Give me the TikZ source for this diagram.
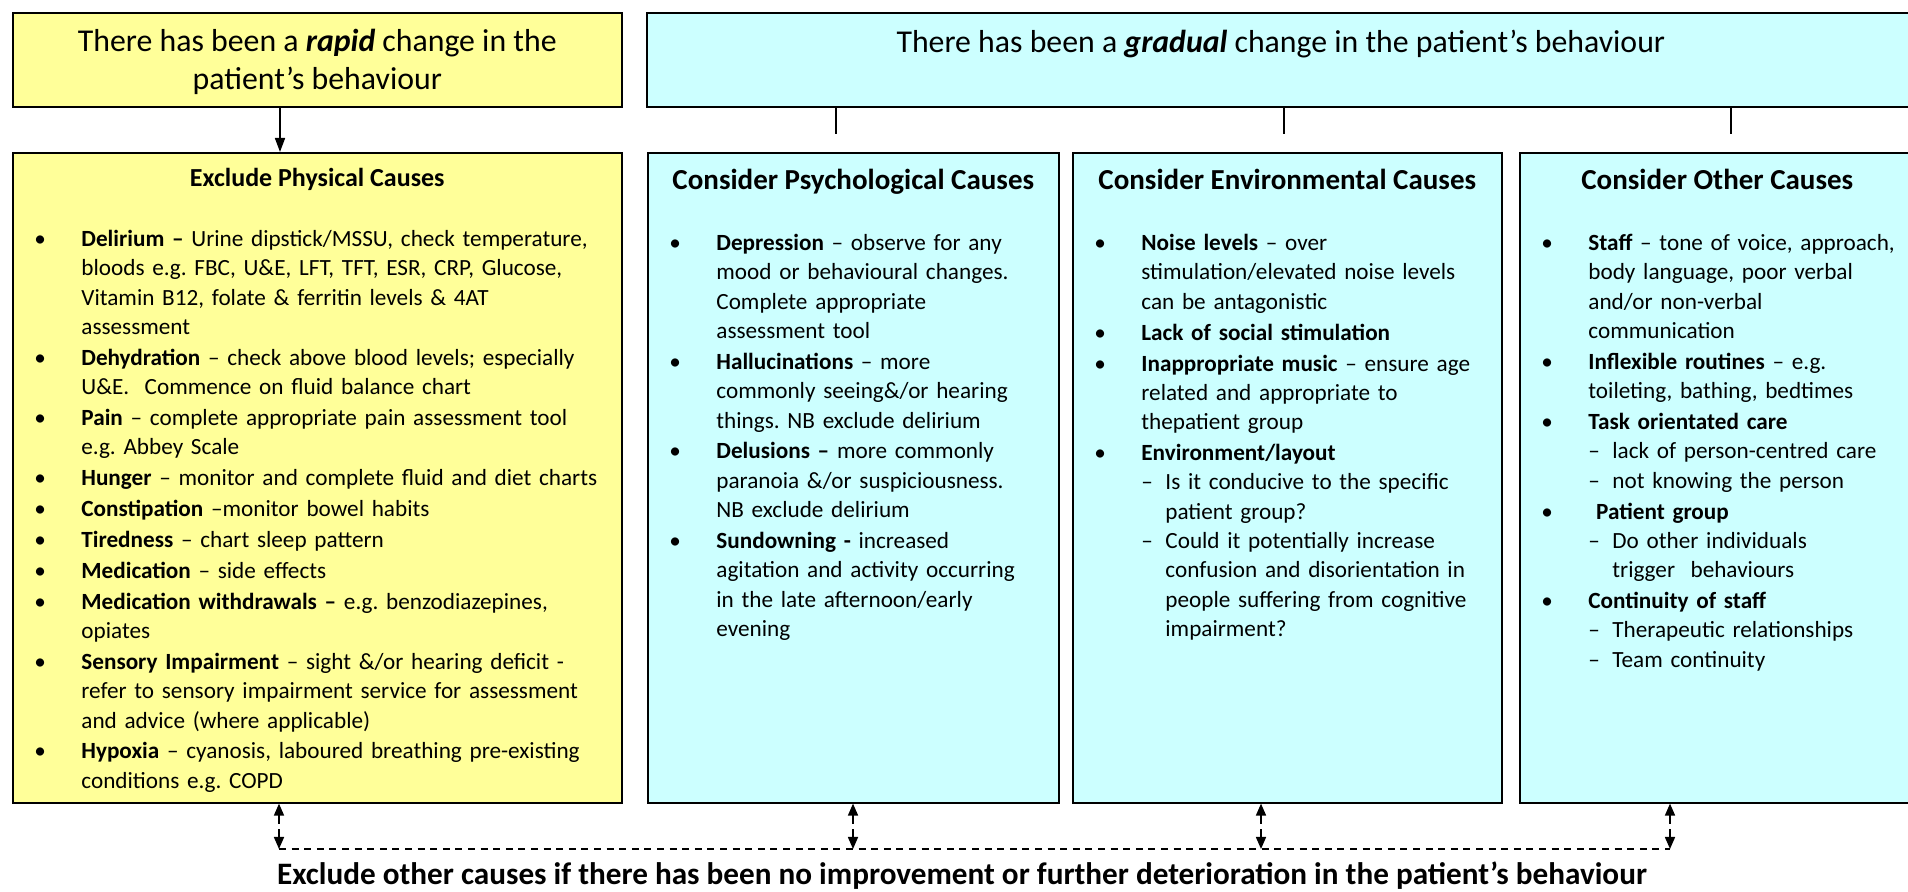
\documentclass[tikz,border=0pt]{standalone}
\usepackage{fontspec}
\setmainfont{Carlito}
\usepackage{enumitem}
\usetikzlibrary{arrows.meta,shadows}
\definecolor{rapidyellow}{HTML}{FFFF99}
\definecolor{gradualcyan}{HTML}{CCFFFF}
\frenchspacing
\setlist[itemize,1]{label=\textbullet,leftmargin=34.5pt,labelindent=11pt,labelwidth=23.5pt,labelsep=0pt,align=left,topsep=0pt,partopsep=0pt,parsep=0pt,itemsep=0.8pt}
\setlist[itemize,2]{label=--,leftmargin=12pt,labelindent=0pt,labelwidth=12pt,labelsep=0pt,align=left,topsep=0pt,partopsep=0pt,parsep=0pt,itemsep=0pt}
\begin{document}
\begin{tikzpicture}[x=0.5pt,y=-0.5pt,
    causebox/.style={draw=black,line width=0.8pt,anchor=north west,inner sep=0pt,
      drop shadow={shadow xshift=0.8pt,shadow yshift=-0.8pt,fill=black!60,opacity=0.8}},
    toptext/.style={align=center,inner sep=0pt,font=\fontsize{15.9}{19}\selectfont},
    causetitle/.style={anchor=base,inner sep=0pt,font=\bfseries\fontsize{14.5}{16}\selectfont},
    causelist/.style={anchor=north west,inner sep=0pt,align=left,font=\fontsize{11.6}{14.65}\selectfont},
    twoway/.style={{Triangle[width=5pt,length=6pt]}-{Triangle[width=5pt,length=6pt]},line width=0.8pt,dash pattern=on 4.5pt off 2.5pt},
    feedback/.style={line width=0.7pt,dash pattern=on 3.5pt off 2.8pt}]
  \useasboundingbox (0,0) rectangle (1908,892);
  % top row
  \node[causebox,fill=rapidyellow,minimum width=304.5pt,minimum height=47pt] (rapid) at (12,12) {};
  \node[causebox,fill=gradualcyan,minimum width=634pt,minimum height=47pt] (gradual) at (646,12) {};
  \node[toptext,yshift=-1pt] (rapidtxt) at (rapid.center) {There has been a \textbf{\textit{rapid}} change in the\\ patient's behaviour};
  \node[toptext,yshift=-16pt] (gradualtxt) at (gradual.north) {There has been a \textbf{\textit{gradual}} change in the patient's behaviour};
  % cause boxes
  \node[causebox,fill=rapidyellow,minimum width=304.5pt,minimum height=325pt] (phys) at (12,152) {};
  \node[causebox,fill=gradualcyan,minimum width=205.5pt,minimum height=325pt] (psych) at (647,152) {};
  \node[causebox,fill=gradualcyan,minimum width=214.5pt,minimum height=325pt] (env) at (1072,152) {};
  \node[causebox,fill=gradualcyan,minimum width=197.5pt,minimum height=325pt] (other) at (1519,152) {};
  \node[causetitle,font=\bfseries\fontsize{13}{15}\selectfont,yshift=-17.5pt] (physttl) at (phys.north) {Exclude Physical Causes};
  \node[causetitle,yshift=-19pt] (psychttl) at (psych.north) {Consider Psychological Causes};
  \node[causetitle,yshift=-19pt] (envttl) at (env.north) {Consider Environmental Causes};
  \node[causetitle,yshift=-19pt] (otherttl) at (other.north) {Consider Other Causes};
  \node[causelist,text width=304pt,yshift=-32.4pt] (physlist) at (phys.north west) {%
    \begin{itemize}
      \item\strut\textbf{Delirium --} Urine dipstick/MSSU, check temperature,\\ bloods e.g. FBC, U\&E, LFT, TFT, ESR, CRP, Glucose,\\ Vitamin B12, folate \& ferritin levels \& 4AT\\ assessment
      \item \textbf{Dehydration} -- check above blood levels; especially\\ U\&E.\ \ Commence on fluid balance chart
      \item \textbf{Pain} -- complete appropriate pain assessment tool\\ e.g. Abbey Scale
      \item \textbf{Hunger} -- monitor and complete fluid and diet charts
      \item \textbf{Constipation} --monitor bowel habits
      \item \textbf{Tiredness} -- chart sleep pattern
      \item \textbf{Medication} -- side effects
      \item \textbf{Medication withdrawals --} e.g. benzodiazepines,\\ opiates
      \item \textbf{Sensory Impairment} -- sight \&/or hearing deficit -\\ refer to sensory impairment service for assessment\\ and advice (where applicable)
      \item \textbf{Hypoxia} -- cyanosis, laboured breathing pre-existing\\ conditions e.g. COPD
    \end{itemize}};
  \node[causelist,text width=205pt,yshift=-34.5pt] (psychlist) at (psych.north west) {%
    \begin{itemize}
      \item\strut\textbf{Depression} -- observe for any\\ mood or behavioural changes.\\ Complete appropriate\\ assessment tool
      \item \textbf{Hallucinations} -- more\\ commonly seeing\&/or hearing\\ things. NB exclude delirium
      \item \textbf{Delusions --} more commonly\\ paranoia \&/or suspiciousness.\\ NB exclude delirium
      \item \textbf{Sundowning -} increased\\ agitation and activity occurring\\ in the late afternoon/early\\ evening
    \end{itemize}};
  \node[causelist,text width=214pt,yshift=-34.5pt] (envlist) at (env.north west) {%
    \begin{itemize}
      \item\strut\textbf{Noise levels} -- over\\ stimulation/elevated noise levels\\ can be antagonistic
      \item \textbf{Lack of social stimulation}
      \item \textbf{Inappropriate music} -- ensure age\\ related and appropriate to\\ thepatient group
      \item \textbf{Environment/layout}
      \begin{itemize}
        \item Is it conducive to the specific\\ patient group?
        \item Could it potentially increase\\ confusion and disorientation in\\ people suffering from cognitive\\ impairment?
      \end{itemize}
    \end{itemize}};
  \node[causelist,text width=197pt,yshift=-34.5pt] (otherlist) at (other.north west) {%
    \begin{itemize}
      \item\strut\textbf{Staff} -- tone of voice, approach,\\ body language, poor verbal\\ and/or non-verbal\\ communication
      \item \textbf{Inflexible routines} -- e.g.\\ toileting, bathing, bedtimes
      \item \textbf{Task orientated care}
      \begin{itemize}[labelindent=-4pt]
        \item lack of person-centred care
        \item not knowing the person
      \end{itemize}
      \item \ \textbf{Patient group}
      \begin{itemize}[labelindent=-4pt]
        \item Do other individuals\\ trigger\ \ behaviours
      \end{itemize}
      \item \textbf{Continuity of staff}
      \begin{itemize}[labelindent=-4pt]
        \item Therapeutic relationships
        \item Team continuity
      \end{itemize}
    \end{itemize}};
  % connectors
  \coordinate (drop) at (280,0);
  \draw[line width=0.8pt,-{Triangle[width=5pt,length=7pt]}] (rapid.south -| drop) -- (phys.north -| drop);
  \foreach \g/\x in {g1/836,g2/1284,g3/1731}{
    \coordinate (\g) at (\x,134);
    \draw[line width=0.9pt] (gradual.south -| \g) -- (\g);
  }
  \coordinate (f1) at (279,849);
  \coordinate (f2) at (853,849);
  \coordinate (f3) at (1261,849);
  \coordinate (f4) at (1670,849);
  \draw[twoway] (phys.south -| f1) -- (f1);
  \draw[twoway] (psych.south -| f2) -- (f2);
  \draw[twoway] (env.south -| f3) -- (f3);
  \draw[twoway] (other.south -| f4) -- (f4);
  \draw[feedback] (f1) -- (f4);
  \node[inner sep=0pt,font=\bfseries\fontsize{15.6}{17}\selectfont] (note) at (962,876) {Exclude other causes if there has been no improvement or further deterioration in the patient's behaviour};
\end{tikzpicture}
\end{document}
